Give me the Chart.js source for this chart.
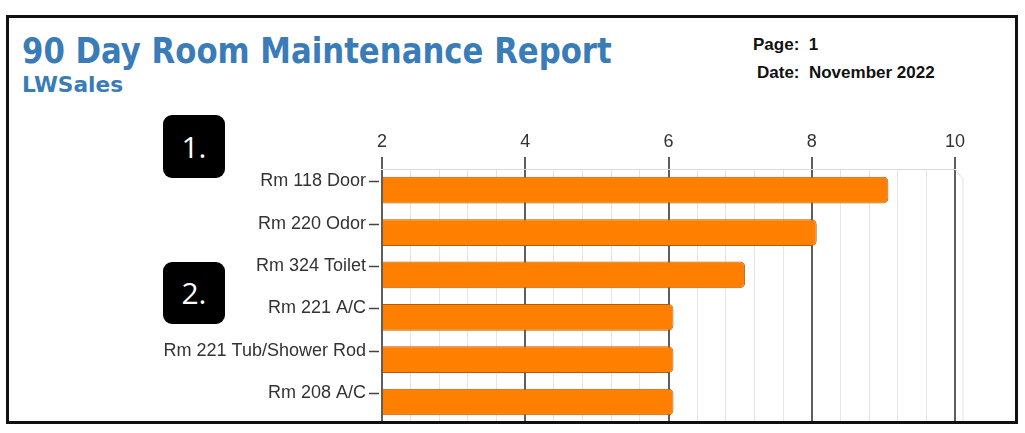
<!DOCTYPE html>
<html>
<head>
<meta charset="utf-8">
<script src="https://cdn.jsdelivr.net/npm/chart.js@4.4.0/dist/chart.umd.min.js"></script>
<style>
  body { margin: 0; width: 1025px; height: 433px; background: #fff; position: relative; overflow: hidden; }
  .frame { position: absolute; left: 6px; top: 15px; width: 1012px; height: 409px; box-sizing: border-box; border: 3px solid #111; z-index: 5; pointer-events: none; }
  .title { position: absolute; left: 22px; top: 33px; font: bold 36px/36px "DejaVu Sans Condensed", "DejaVu Sans", sans-serif; font-stretch: condensed; color: #3a7cb8; white-space: nowrap; transform-origin: 0 0; }
  .sub { position: absolute; left: 22px; top: 75px; font: bold 21px/21px "DejaVu Sans Condensed", "DejaVu Sans", sans-serif; font-stretch: condensed; color: #3a7cb8; white-space: nowrap; transform-origin: 0 0; }
  .meta { position: absolute; font: bold 17px/17px "Liberation Sans", Arial, sans-serif; color: #111; white-space: pre; }
  .badge { position: absolute; left: 163px; width: 62px; height: 63px; background: #000; border-radius: 9px; color: #fff; font: 30px/63px "Open Sans", "Liberation Sans", sans-serif; text-align: center; }
  #chart { position: absolute; left: 0; top: 110px; }
</style>
</head>
<body>
<div class="title" id="title">90 Day Room Maintenance Report</div>
<div class="sub" id="sub">LWSales</div>
<div class="meta" style="left:753px; top:36px;">Page:  1</div>
<div class="meta" style="left:757px; top:64px;">Date:  November 2022</div>
<div class="badge" style="top:115px;">1.</div>
<div class="badge" style="top:262px; height:62px; line-height:62px;">2.</div>
<canvas id="chart" width="1025" height="340"></canvas>
<div class="frame"></div>
<script>
// squeeze heading text to the width it has in the report
const fitWidth = (id, w) => {
  const el = document.getElementById(id);
  el.style.transform = "scaleX(" + (w / el.offsetWidth) + ")";
};
fitWidth("title", 590);
fitWidth("sub", 101);

const rooms = ["Rm 118 Door", "Rm 220 Odor", "Rm 324 Toilet", "Rm 221 A/C", "Rm 221 Tub/Shower Rod", "Rm 208 A/C"];
const counts = [9, 8, 7, 6, 6, 6];
const axisMin = 2;
const axisMax = 10;
const minorStep = 0.4;

const isMajor = (v) => Math.abs(v - Math.round(v)) < 1e-6 && Math.round(v) % 2 === 0;

const roomDecor = {
  id: "roomDecor",
  beforeDatasetDraw(chart) {
    chart.ctx.save();
    chart.ctx.translate(5, 0);
  },
  afterDatasetDraw(chart) {
    chart.ctx.restore();
  },
  afterDraw(chart) {
    const ctx = chart.ctx;
    const area = chart.chartArea;
    const y = chart.scales.y;
    ctx.save();
    // back wall edge on the right
    ctx.strokeStyle = "#e2e2e2";
    ctx.lineWidth = 1;
    ctx.beginPath();
    ctx.moveTo(area.right, area.top);
    ctx.lineTo(area.right + 8, area.top + 10);
    ctx.lineTo(area.right + 8, area.bottom);
    ctx.stroke();
    // small tick dashes next to the room names
    ctx.strokeStyle = "#444";
    ctx.lineWidth = 1.5;
    rooms.forEach((r, i) => {
      const py = Math.round(y.getPixelForTick(i)) - 9 + 0.5;
      ctx.beginPath();
      ctx.moveTo(area.left - 13, py);
      ctx.lineTo(area.left - 3, py);
      ctx.stroke();
    });
    ctx.restore();
  },
};

const initChart = (labels, data, initElement) => {
  const config = {
    type: "bar",
    data: {
      labels: [...labels],
      datasets: [
        {
          data: [...data],
          backgroundColor: "#ff8000",
          borderColor: "#b85c00",
          borderWidth: 1,
          borderRadius: 5,
          borderSkipped: "start",
          categoryPercentage: 1,
          barPercentage: 0.63,
          clip: { left: 4, top: 0, right: 20, bottom: 0 },
        },
      ],
    },
    options: {
      indexAxis: "y",
      responsive: false,
      animation: false,
      devicePixelRatio: 1,
      layout: { padding: { left: 0, right: 70, top: 0, bottom: 0 } },
      plugins: {
        legend: false,
        tooltip: { enabled: false },
      },
      scales: {
        x: {
          type: "linear",
          position: "top",
          min: axisMin,
          max: axisMax,
          afterFit: (scale) => { scale.height = 59; },
          ticks: {
            stepSize: minorStep,
            autoSkip: false,
            maxRotation: 0,
            padding: 4,
            color: "#333",
            font: { family: "'Liberation Sans', Arial, sans-serif", size: 18 },
            callback: (v) => (isMajor(v) ? String(Math.round(v)) : ""),
          },
          grid: {
            drawTicks: true,
            tickLength: 12,
            color: (c) => (isMajor(c.tick.value) ? "#5e5e5e" : "#e4e4e4"),
            tickColor: (c) => (isMajor(c.tick.value) ? "#5e5e5e" : "rgba(0,0,0,0)"),
            lineWidth: (c) => (isMajor(c.tick.value) ? 2 : 1),
          },
          border: { display: true, color: "#dcdcdc", width: 1 },
        },
        y: {
          afterFit: (scale) => { scale.width = 382; },
          ticks: {
            padding: 16,
            labelOffset: -9,
            color: "#333",
            font: { family: "'Liberation Sans', Arial, sans-serif", size: 18 },
          },
          grid: { display: true, drawOnChartArea: false, drawTicks: false },
          border: { display: false },
        },
      },
    },
    plugins: [roomDecor],
  };
  return new Chart(initElement, config);
};

initChart(rooms, counts, document.getElementById("chart"));
</script>
</body>
</html>
